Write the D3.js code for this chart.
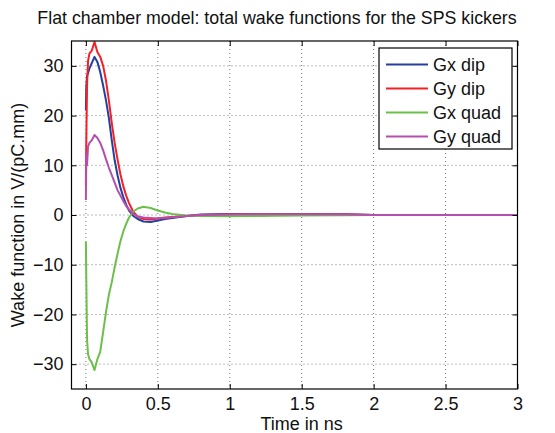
<!DOCTYPE html>
<html>
<head>
<meta charset="utf-8">
<script src="https://cdn.jsdelivr.net/npm/d3@7"></script>
<style>
  body { margin: 0; background: #fff; }
  svg { display: block; font-family: "Liberation Sans", Arial, sans-serif; }
</style>
</head>
<body>
<div id="chart"></div>
<script>
// time axis (ns), shared by all four curves
var timeNs = [0, 0.003, 0.008, 0.015, 0.025, 0.04, 0.06, 0.08, 0.1, 0.12, 0.14, 0.16, 0.18, 0.2,
  0.22, 0.24, 0.26, 0.28, 0.3, 0.33, 0.36, 0.4, 0.45, 0.5, 0.55, 0.6, 0.7, 0.8, 1.0, 1.2, 1.5, 1.8, 2.0, 2.5, 3.0];

// wake functions in V/(pC.mm)
var gxDip = [21, 26, 28, 28.5, 29.5, 30.5, 31.8, 30.8, 28.7, 26, 23, 19.5, 15, 11,
  8, 5.5, 3.6, 2.1, 0.9, -0.2, -0.8, -1.3, -1.4, -1.1, -0.8, -0.6, -0.2, 0.1, 0.2, 0.2, 0.2, 0.15, 0, 0, 0];
var gyDip = [6, 15, 26, 31, 32.5, 33, 34.8, 32.8, 31.8, 30, 27, 23, 18.5, 14.5,
  11.2, 8.2, 5.8, 3.9, 2.4, 0.6, -0.3, -0.8, -0.9, -0.7, -0.5, -0.4, -0.2, 0, 0.1, 0.15, 0.15, 0.1, 0, 0, 0];
var gxQuad = [-5.4, -13, -25, -28, -29, -29.6, -31.2, -29, -27.5, -23.5, -19.5, -16, -13.5, -10.5,
  -7.8, -5.3, -3.3, -1.8, -0.5, 0.7, 1.3, 1.65, 1.4, 0.9, 0.5, 0.2, -0.1, -0.2, -0.25, -0.2, -0.1, -0.05, 0, 0, 0];
var gyQuad = [3, 12, 10, 13.8, 14.5, 15, 16.1, 15.5, 14.5, 13, 11.2, 9.5, 8, 6.5,
  5, 3.9, 2.8, 1.8, 1.1, 0.2, -0.3, -0.5, -0.6, -0.7, -0.6, -0.45, -0.2, 0, 0.1, 0.15, 0.15, 0.1, 0, 0, 0];

var seriesNames = ["Gx dip", "Gy dip", "Gx quad", "Gy quad"];
var seriesColors = ["#2340a0", "#f52025", "#6cc04a", "#b54fae"];
var xTicks = [0, 0.5, 1, 1.5, 2, 2.5, 3];
var yTicks = [-30, -20, -10, 0, 10, 20, 30];

var W = 555, H = 433;
var pL = 71.5, pR = 517.5, pT = 41, pB = 389;

var svg = d3.select("#chart").append("svg")
    .attr("width", W)
    .attr("height", H);

var x = d3.scaleLinear().domain([-0.1, 3]).range([pL, pR]);
var y = d3.scaleLinear().domain([-35, 35]).range([pB, pT]);

// dotted grid
svg.append("g").selectAll("line").data(xTicks).enter().append("line")
    .attr("x1", function(d) { return x(d); }).attr("x2", function(d) { return x(d); })
    .attr("y1", pT).attr("y2", pB)
    .attr("stroke", "#777").attr("stroke-width", 1).attr("stroke-dasharray", "1,3");
svg.append("g").selectAll("line").data(yTicks).enter().append("line")
    .attr("x1", pL).attr("x2", pR)
    .attr("y1", function(d) { return y(d); }).attr("y2", function(d) { return y(d); })
    .attr("stroke", "#777").attr("stroke-width", 1).attr("stroke-dasharray", "1,3");

// curves
var line = d3.line()
    .x(function(d) { return x(d[0]); })
    .y(function(d) { return y(d[1]); });

[gxDip, gyDip, gxQuad, gyQuad].forEach(function(vals, i) {
  svg.append("path")
      .datum(timeNs.map(function(t, j) { return [t, vals[j]]; }))
      .attr("d", line)
      .attr("fill", "none")
      .attr("stroke", seriesColors[i])
      .attr("stroke-width", 2)
      .attr("stroke-linejoin", "round");
});

// axes, ticks pointing inward on every side
var fs = "18px";
var xb = svg.append("g").attr("transform", "translate(0," + pB + ")")
    .call(d3.axisBottom(x).tickValues(xTicks).tickSize(-5).tickPadding(8).tickFormat(d3.format("")));
var xt = svg.append("g").attr("transform", "translate(0," + pT + ")")
    .call(d3.axisTop(x).tickValues(xTicks).tickSize(-5).tickFormat(""));
var yl = svg.append("g").attr("transform", "translate(" + pL + ",0)")
    .call(d3.axisLeft(y).tickValues(yTicks).tickSize(-5).tickPadding(8)
      .tickFormat(function(d) { return d < 0 ? "\u2212" + Math.abs(d) : d; }));
var yr = svg.append("g").attr("transform", "translate(" + pR + ",0)")
    .call(d3.axisRight(y).tickValues(yTicks).tickSize(-5).tickFormat(""));

[xb, xt, yl, yr].forEach(function(g) {
  g.select(".domain").remove();
  g.selectAll(".tick line").attr("stroke", "#000").attr("stroke-width", 1);
  g.selectAll("text").attr("font-size", fs).attr("font-family", "Liberation Sans, Arial, sans-serif").attr("fill", "#111");
});

svg.append("rect")
    .attr("x", pL).attr("y", pT)
    .attr("width", pR - pL).attr("height", pB - pT)
    .attr("fill", "none").attr("stroke", "#000").attr("stroke-width", 1.2);

// labels
svg.append("text")
    .attr("x", 277).attr("y", 24)
    .attr("text-anchor", "middle")
    .attr("font-size", "17.8px").attr("fill", "#111")
    .text("Flat chamber model: total wake functions for the SPS kickers");

svg.append("text")
    .attr("x", (x(0) + x(3)) / 2).attr("y", 430)
    .attr("text-anchor", "middle")
    .attr("font-size", fs).attr("fill", "#111")
    .text("Time in ns");

svg.append("text")
    .attr("transform", "translate(24," + (pT + pB) / 2 + ") rotate(-90)")
    .attr("text-anchor", "middle")
    .attr("font-size", fs).attr("fill", "#111")
    .text("Wake function in V/(pC.mm)");

// legend
var lg = svg.append("g");
lg.append("rect")
    .attr("x", 379).attr("y", 48).attr("width", 133).attr("height", 101)
    .attr("fill", "#fff").attr("stroke", "#000").attr("stroke-width", 1.2);
seriesNames.forEach(function(name, i) {
  var yy = 64.5 + i * 24;
  lg.append("line")
      .attr("x1", 386).attr("x2", 428).attr("y1", yy).attr("y2", yy)
      .attr("stroke", seriesColors[i]).attr("stroke-width", 2);
  lg.append("text")
      .attr("x", 433).attr("y", yy + 6)
      .attr("font-size", fs).attr("fill", "#111")
      .text(name);
});
</script>
</body>
</html>
